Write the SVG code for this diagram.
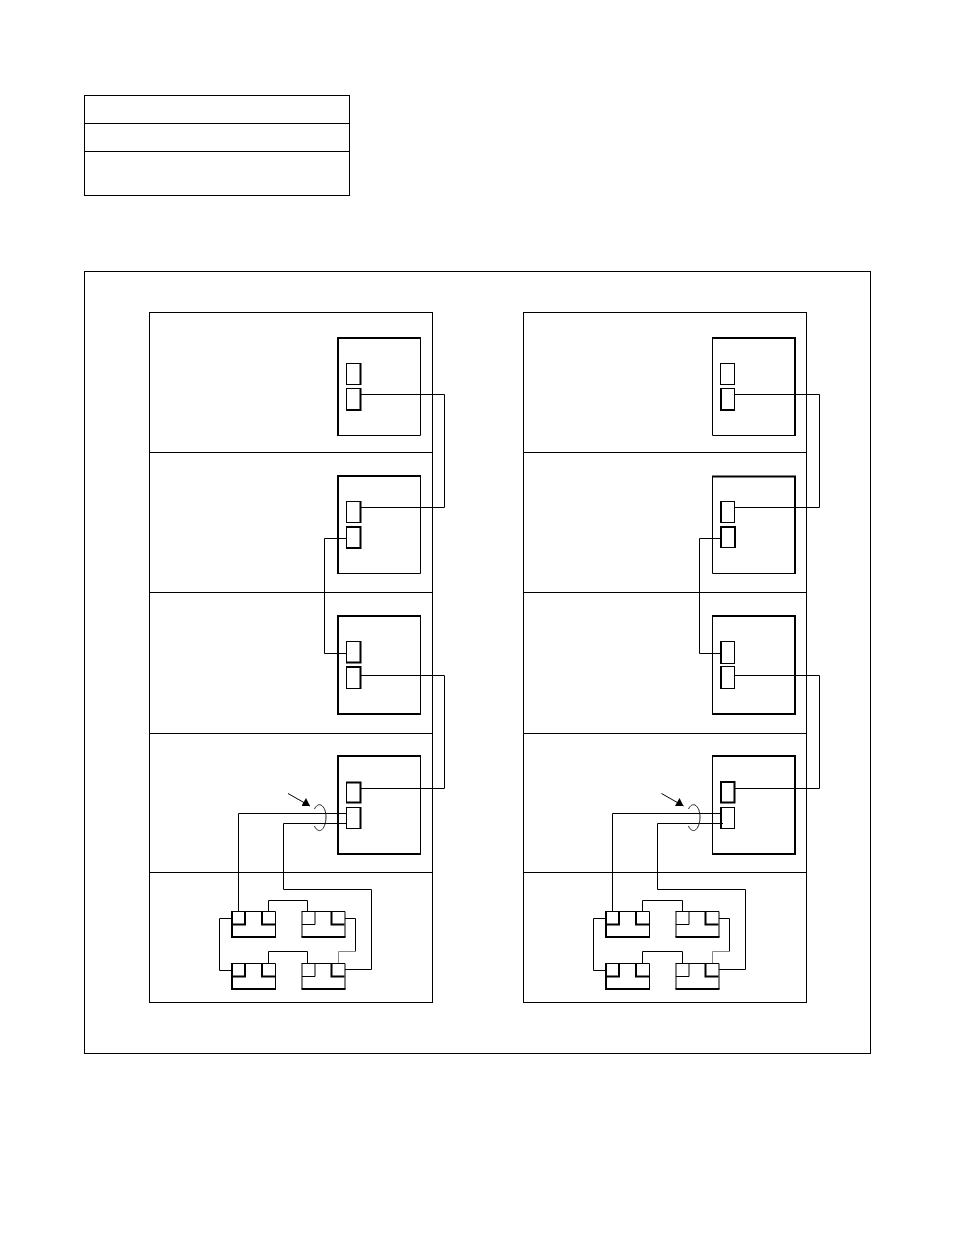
<svg xmlns="http://www.w3.org/2000/svg" xmlns:xlink="http://www.w3.org/1999/xlink" width="954" height="1235" viewBox="0 0 954 1235">
<style>
.t{fill:none;stroke:#000;stroke-width:1}
.k{fill:none;stroke:#000;stroke-width:2}
.g{fill:none;stroke:#888;stroke-width:1}
.c{fill:none;stroke:#222;stroke-width:1}
</style>
<defs>
<marker id="ah" markerWidth="10" markerHeight="10" refX="8.5" refY="8" orient="0" markerUnits="userSpaceOnUse"><path d="M4.5 0L8.5 8H0Z" fill="#000"/></marker>
<g id="unitA">
<path class="t" d="M232 911.5H275.5V937"/>
<path class="k" d="M232 911V937H276"/>
<path class="k" d="M232 924.5H245V911M275 924.5H262V911"/>
</g>
<g id="unitB">
<path class="t" d="M232 911.5H275.5V937M232.5 911.5V937M232.5 924.5H245.5V911.5"/>
<path class="k" d="M232 937H276M275 924.5H262V911"/>
</g>
</defs>
<g id="table">
<rect class="t" x="84.5" y="95.5" width="265" height="100"/>
<path class="t" d="M84.5 123.5H349.5M84.5 151.5H349.5"/>
</g>
<g id="frame"><rect class="t" x="84.5" y="271.5" width="786" height="782"/></g>
<g id="panel-left">
<rect class="t" x="149.5" y="312.5" width="283" height="690"/>
<path class="t" d="M149.5 452.5H432.5M149.5 592.5H432.5M149.5 733.5H432.5M149.5 872.5H432.5"/>
<g id="l-mod1"><path class="t" d="M420.5 338V435.5H338"/><path class="k" d="M338 436V338H421"/><rect class="t" x="346.5" y="363.5" width="14" height="21"/><path class="k" d="M360.5 363V385"/><rect class="t" x="346.5" y="388.5" width="14" height="21"/><path class="k" d="M360.5 388V410M346 410H361.5"/></g>
<g id="l-mod2"><path class="t" d="M420.5 476V573.5H338"/><path class="k" d="M338 574V476H421"/><rect class="t" x="346.5" y="501.5" width="14" height="21"/><path class="k" d="M360.5 501V523"/><rect class="t" x="346.5" y="526.5" width="14" height="21"/><path class="k" d="M346 527H360.5V548H346"/></g>
<g id="l-mod3"><path class="t" d="M420.5 616V714"/><path class="k" d="M421 616H338V714H421"/><rect class="t" x="346.5" y="641.5" width="14" height="21"/><path class="k" d="M346 662.5H360.5V641"/><rect class="t" x="346.5" y="666.5" width="14" height="22"/><path class="k" d="M346 667H360.5V689"/></g>
<g id="l-mod4"><path class="t" d="M420.5 756V854"/><path class="k" d="M421 756H338V854H421"/><rect class="t" x="346.5" y="782.5" width="14" height="20"/><path class="k" d="M346 782.5H360.5V802.5H346"/><rect class="t" x="346.5" y="807.5" width="14" height="21"/><path class="k" d="M360.5 807V829"/></g>
<g id="l-u1"><use xlink:href="#unitA"/></g>
<g id="l-u2"><use xlink:href="#unitB" x="69.5"/></g>
<g id="l-u3"><use xlink:href="#unitA" y="52"/></g>
<g id="l-u4"><use xlink:href="#unitB" x="69.5" y="52"/></g>
</g>
<g id="panel-right">
<rect class="t" x="523.5" y="312.5" width="283" height="690"/>
<path class="t" d="M523.5 452.5H806.5M523.5 592.5H806.5M523.5 733.5H806.5M523.5 872.5H806.5"/>
<g id="r-mod1"><path class="t" d="M712.5 338V435.5H795"/><path class="k" d="M712 338H795V436"/><rect class="t" x="720.5" y="363.5" width="14" height="21"/><rect class="t" x="720.5" y="388.5" width="14" height="21"/><path class="k" d="M721 388V410H735"/></g>
<g id="r-mod2"><path class="t" d="M712.5 476V573.5H795"/><path class="k" d="M712 476.5H795V574"/><rect class="t" x="720.5" y="501.5" width="14" height="21"/><path class="k" d="M721 501V523"/><rect class="t" x="720.5" y="526.5" width="14" height="21"/><path class="k" d="M721 526V548M720 527H735V548"/></g>
<g id="r-mod3"><path class="t" d="M712.5 616V714"/><path class="k" d="M712 616H795V714H712"/><rect class="t" x="720.5" y="641.5" width="14" height="22"/><path class="k" d="M721 641V664"/><rect class="t" x="720.5" y="666.5" width="14" height="22"/><path class="k" d="M721 666V689"/></g>
<g id="r-mod4"><path class="t" d="M712.5 756V854"/><path class="k" d="M712 756H795V854H712"/><rect class="k" x="721" y="782" width="13.5" height="20.5"/><rect class="t" x="720.5" y="807.5" width="14" height="21"/><path class="k" d="M721 807V829"/></g>
<g id="r-u1"><use xlink:href="#unitA" x="374"/></g>
<g id="r-u2"><use xlink:href="#unitB" x="443.5"/></g>
<g id="r-u3"><use xlink:href="#unitA" x="374" y="52"/></g>
<g id="r-u4"><use xlink:href="#unitB" x="443.5" y="52"/></g>
</g>
<g id="connectors">
<path class="t" d="M360 394.5H444.5V507.5H360M346 538.5H324.5V653.5H346M360 675.5H444.5V788.5H360"/>
<path class="t" d="M734 394.5H819.5V507.5H734M720 538.5H699.5V653.5H720M734 675.5H819.5V788.5H734"/>
<path class="t" d="M238.5 911V813.5H346M346 823.5H283.5V889.5H371.5V969.5H345M268.5 911V900.5H307.5V911M232 918.5H219.5V970.5H232M268.5 963V951.5H307.5V963M345 918.5H355.5V951.5"/>
<path class="g" d="M355.5 951.5H338.5V963"/>
<path class="t" d="M612.5 911V813.5H720M723 823.5H657.5V889.5H745.5V969.5H719M642.5 911V900.5H682.5V911M606 918.5H593.5V970.5H606M642.5 963V951.5H682.5V963M719 918.5H729.5V951.5"/>
<path class="g" d="M729.5 951.5H712.5V963"/>
<path class="t" d="M288 793.5L310 806" marker-end="url(#ah)"/>
<path class="t" d="M661.5 793.5L683.5 806" marker-end="url(#ah)"/>
<path class="c" d="M314.5 809C316 805.5 319 804 321 805C324.500 807 326 812 326 817C326 823 324 829 320.500 830.500C318 831 315.500 829 314.500 826"/>
<path class="c" d="M688.500 809C690 805.500 693 804 695 805C698.500 807 700 812 700 817C700 823 698 829 694.500 830.500C692 831 689.500 829 688.500 826"/>
</g>
</svg>
